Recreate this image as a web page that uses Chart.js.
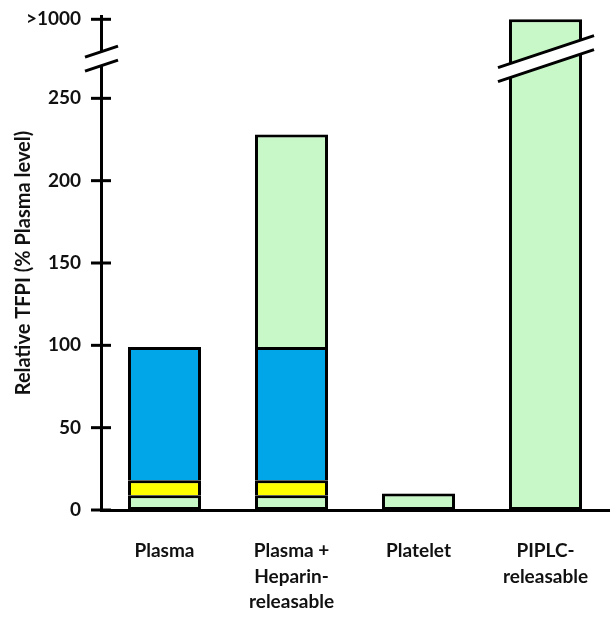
<!DOCTYPE html>
<html>
<head>
<meta charset="utf-8">
<script src="https://cdn.jsdelivr.net/npm/chart.js@4"></script>
<style>
    body { margin: 0; background: #fff; }
    .chart-box { width: 612px; height: 618px; }
</style>
</head>
<body>
<div class="chart-box"><canvas id="tfpi"></canvas></div>
<script>
const categories = [['Plasma'], ['Plasma +', 'Heparin-', 'releasable'], ['Platelet'], ['PIPLC-', 'releasable']];

// stacked segments, % of plasma level
const baseGreen = [9, 9, 10, null];
const yellowPart = [9, 9, null, null];
const bluePart = [81, 81, null, null];
const heparinGreen = [null, 129, null, null];
const piplcValues = [null, null, null, 1000];

const yTicks = [0, 50, 100, 150, 200, 250];
const topLabel = '>1000';

// axis is broken above 250: the >1000 tick sits at this height
const BREAK_TOP = 298;
const BREAK_AT = 274;

const GREEN = '#c8f7c8';
const BLUE = '#00a6e8';
const YELLOW = '#ffff00';

const capped = (arr) => arr.map(v => v == null ? null : Math.min(v, BREAK_TOP));

const barStyle = {
    borderColor: '#000',
    borderWidth: 3,
    borderSkipped: false,
    barPercentage: 0.575,
    categoryPercentage: 1,
};
// segments sitting on another one share its top edge
const upperStyle = { ...barStyle, borderWidth: { top: 3, left: 3, right: 3, bottom: 0 } };

const barShadow = {
    id: 'barShadow',
    beforeDatasetsDraw(chart) {
        const c = chart.ctx;
        c.save();
        c.shadowColor = 'rgba(0,0,0,0.3)';
        c.shadowBlur = 5;
        c.shadowOffsetX = 2;
        c.shadowOffsetY = 2;
    },
    afterDatasetsDraw(chart) {
        chart.ctx.restore();
    },
};

const axisExtras = {
    id: 'axisExtras',
    afterDraw(chart) {
        const ctx = chart.ctx;
        const y = chart.scales.y;
        const axisX = y.right;
        ctx.save();
        ctx.strokeStyle = '#000';
        ctx.lineWidth = 3;
        // tick marks crossing the axis
        y.ticks.forEach(t => {
            const py = y.getPixelForValue(t.value);
            ctx.beginPath();
            ctx.moveTo(axisX - 10, py);
            ctx.lineTo(axisX + 10, py);
            ctx.stroke();
        });

        const drawBreak = (x1, x2, cx) => {
            const cy = y.getPixelForValue(BREAK_AT);
            const slope = -1 / 3;
            const gap = 7;
            const yAt = (x, off) => cy + off + (x - cx) * slope;
            ctx.fillStyle = '#fff';
            ctx.beginPath();
            ctx.moveTo(x1, yAt(x1, -gap));
            ctx.lineTo(x2, yAt(x2, -gap));
            ctx.lineTo(x2, yAt(x2, gap));
            ctx.lineTo(x1, yAt(x1, gap));
            ctx.closePath();
            ctx.fill();
            [-gap, gap].forEach(off => {
                ctx.beginPath();
                ctx.moveTo(x1, yAt(x1, off));
                ctx.lineTo(x2, yAt(x2, off));
                ctx.stroke();
            });
        };

        drawBreak(axisX - 16, axisX + 17, axisX);

        const meta = chart.getDatasetMeta(4);
        const bar = meta.data[3];
        if (bar) {
            const half = bar.width / 2;
            drawBreak(bar.x - half - 11, bar.x + half + 12, bar.x);
        }
        ctx.restore();
    },
};

const ctx = document.getElementById('tfpi').getContext('2d');

new Chart(ctx, {
    type: 'bar',
    data: {
        labels: categories,
        datasets: [
            { label: 'base', data: baseGreen, backgroundColor: GREEN, ...barStyle },
            { label: 'yellow', data: yellowPart, backgroundColor: YELLOW, ...upperStyle },
            { label: 'blue', data: bluePart, backgroundColor: BLUE, ...upperStyle },
            { label: 'heparin', data: heparinGreen, backgroundColor: GREEN, ...upperStyle },
            { label: 'piplc', data: capped(piplcValues), backgroundColor: GREEN, ...barStyle },
        ],
    },
    options: {
        responsive: true,
        maintainAspectRatio: false,
        animation: false,
        layout: { padding: { top: 16, right: 3, left: 0, bottom: 0 } },
        plugins: {
            legend: { display: false },
            tooltip: { enabled: false },
        },
        scales: {
            x: {
                stacked: true,
                grid: { display: false, drawTicks: false },
                border: { color: '#000', width: 3 },
                ticks: {
                    color: '#111',
                    padding: 28,
                    maxRotation: 0,
                    font: { family: 'Lato', weight: 'bold', size: 19, lineHeight: 1.35 },
                },
                afterFit: (scale) => {
                    scale.height = 108;
                    scale.paddingLeft = 0;
                    scale.paddingRight = 0;
                },
            },
            y: {
                stacked: true,
                min: 0,
                max: 300,
                grid: { display: false, drawTicks: false },
                border: { color: '#000', width: 3 },
                afterBuildTicks: (scale) => {
                    scale.ticks = yTicks.concat([BREAK_TOP]).map(v => ({ value: v }));
                },
                ticks: {
                    color: '#111',
                    padding: 20,
                    font: { family: 'Lato', weight: 'bold', size: 19 },
                    callback: (val) => val === BREAK_TOP ? topLabel : val,
                },
                title: {
                    display: true,
                    text: 'Relative TFPI (% Plasma level)',
                    color: '#111',
                    padding: { top: 12, bottom: 0 },
                    font: { family: 'Lato', weight: 'bold', size: 20 },
                },
                afterFit: (scale) => {
                    scale.width = 101;
                    scale.paddingTop = 0;
                    scale.paddingBottom = 0;
                },
            },
        },
    },
    plugins: [barShadow, axisExtras],
});
</script>
</body>
</html>
